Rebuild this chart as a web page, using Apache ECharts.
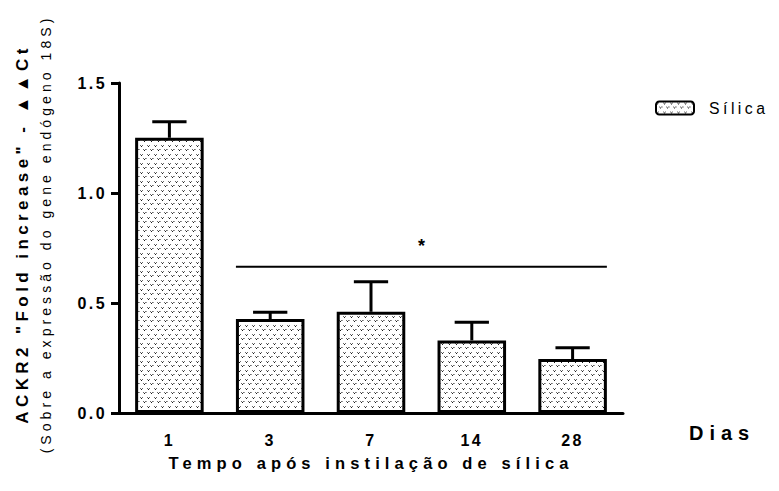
<!DOCTYPE html>
<html><head><meta charset="utf-8">
<script src="https://cdn.jsdelivr.net/npm/echarts@6/dist/echarts.min.js"></script>
<style>
html,body{margin:0;padding:0;background:#fff}
#c{width:779px;height:491px}
#c text[style*="16px"]{letter-spacing:0.15em}
#c text[style*="17px"]{letter-spacing:0.26em}
#c text[style*="14px"]{letter-spacing:0.29em}
#c text[style*="16.5px"]{letter-spacing:0.31em}
#c text[style*="20px"]{letter-spacing:0.3em}
#c text[style*="15.8px"]{letter-spacing:0.22em}
</style>
</head><body><div id="c"></div><script>
const categories = ['1', '3', '7', '14', '28'];
const values = [1.251, 0.427, 0.460, 0.330, 0.245];
const errors = [0.073, 0.031, 0.137, 0.082, 0.052];
const seriesName = 'Sílica';
const sigFrom = 1, sigTo = 4, sigLevel = 0.665, sigLabel = '*';
const yTitle1 = 'ACKR2 "Fold increase" - ▲▲Ct';
const yTitle2 = '(Sobre a expressão do gene endógeno 18S)';
const xTitle = 'Tempo após instilação de sílica';
const unitLabel = 'Dias';

const FONT = '"Liberation Sans", Arial, sans-serif';

// stipple pattern tile
const tile = document.createElement('canvas');
tile.width = 7; tile.height = 9;
const tc = tile.getContext('2d');
tc.fillStyle = '#fff'; tc.fillRect(0, 0, 7, 9);
function v(x, y) {
  tc.fillStyle = '#6a6a6a'; tc.fillRect(x, y, 1, 1); tc.fillRect(x + 2, y, 1, 1);
  tc.fillStyle = '#1a1a1a'; tc.fillRect(x + 1, y + 1, 1, 1);
}
v(0, 1); v(3, 5);
tc.fillStyle = '#9a9a9a'; tc.fillRect(6, 5, 1, 1);
const patternURL = tile.toDataURL();
const pattern = { image: patternURL, repeat: 'repeat' };

const chart = echarts.init(document.getElementById('c'), null, { renderer: 'svg' });
const barFrac = 0.68;

chart.setOption({
  animation: false,
  backgroundColor: '#fff',
  textStyle: { fontFamily: FONT },
  grid: { left: 119, right: 156, top: 83, bottom: 78 },
  legend: {
    data: [seriesName],
    left: 650, top: 95,
    itemWidth: 38, itemHeight: 13, itemGap: 10,
    textStyle: { fontFamily: FONT, fontSize: 15.8, color: '#000', padding: [0, 0, 0, 10] },
    itemStyle: { borderWidth: 2, borderColor: '#000' }
  },
  xAxis: {
    type: 'category', data: categories,
    axisLine: { lineStyle: { color: '#000', width: 3 } },
    axisTick: { alignWithLabel: true, length: 8, lineStyle: { color: '#000', width: 3 } },
    axisLabel: { color: '#000', fontSize: 16, fontWeight: 'bold', fontFamily: FONT, margin: 19 }
  },
  yAxis: {
    type: 'value', min: 0, max: 1.5, interval: 0.5,
    axisLine: { show: true, lineStyle: { color: '#000', width: 3 } },
    axisTick: { show: true, length: 8, lineStyle: { color: '#000', width: 3 } },
    splitLine: { show: false },
    axisLabel: { color: '#000', fontSize: 16, fontWeight: 'bold', fontFamily: FONT, margin: 12,
      formatter: v => v.toFixed(1) }
  },
  series: [
    {
      name: seriesName, type: 'bar', data: values, barWidth: (barFrac * 100) + '%',
      itemStyle: { color: pattern, borderColor: '#000', borderWidth: 3 },
      z: 2
    },
    {
      type: 'custom', z: 3, silent: true,
      data: values.map((v, i) => [i, v, errors[i]]),
      renderItem: (params, api) => {
        const i = api.value(0), v = api.value(1), e = api.value(2);
        const base = api.coord([i, v]);
        const top = api.coord([i, v + e]);
        const bw = api.size([1, 0])[0] * barFrac;
        const half = bw / 4;
        return {
          type: 'group', children: [
            { type: 'line', shape: { x1: base[0], y1: base[1], x2: top[0], y2: top[1] }, style: { stroke: '#000', lineWidth: 3 } },
            { type: 'line', shape: { x1: top[0] - half, y1: top[1], x2: top[0] + half, y2: top[1] }, style: { stroke: '#000', lineWidth: 3 } }
          ]
        };
      }
    },
    {
      type: 'custom', z: 3, silent: true,
      data: [[sigFrom, sigTo, sigLevel]],
      renderItem: (params, api) => {
        const a = api.coord([api.value(0), api.value(2)]);
        const b = api.coord([api.value(1), api.value(2)]);
        const bw = api.size([1, 0])[0] * barFrac;
        const x1 = a[0] - bw / 2, x2 = b[0] + bw / 2;
        return {
          type: 'group', children: [
            { type: 'line', shape: { x1: x1, y1: a[1], x2: x2, y2: a[1] }, style: { stroke: '#000', lineWidth: 2 } },
            { type: 'text', x: (x1 + x2) / 2, y: a[1] - 21, style: { text: sigLabel, font: 'bold 18px ' + FONT, fill: '#000', align: 'center', verticalAlign: 'middle' } }
          ]
        };
      }
    }
  ],
  graphic: [
    { type: 'text', x: 22, y: 234, rotation: Math.PI / 2,
      style: { text: yTitle1, font: 'bold 17px ' + FONT, fill: '#000', align: 'center', verticalAlign: 'middle' } },
    { type: 'text', x: 46, y: 234, rotation: Math.PI / 2,
      style: { text: yTitle2, font: '14px ' + FONT, fill: '#000', align: 'center', verticalAlign: 'middle' } },
    { type: 'text', x: 371, y: 463,
      style: { text: xTitle, font: 'bold 16.5px ' + FONT, fill: '#000', align: 'center', verticalAlign: 'middle' } },
    { type: 'text', x: 689, y: 433,
      style: { text: unitLabel, font: 'bold 20px ' + FONT, fill: '#000', align: 'left', verticalAlign: 'middle' } }
  ]
});
</script></body></html>
